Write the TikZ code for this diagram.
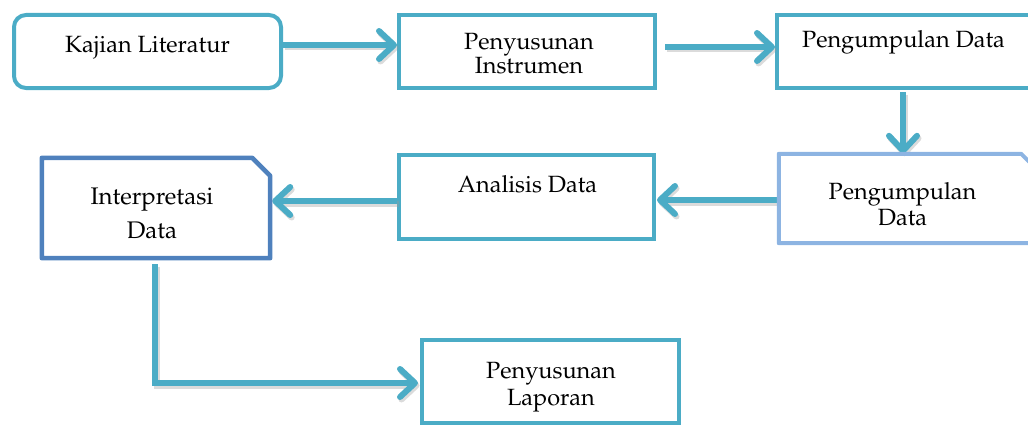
\documentclass[tikz,border=0pt]{standalone}
\usepackage[T1]{fontenc}
\usepackage{mathpazo}
\usetikzlibrary{arrows.meta}
\definecolor{aqua}{RGB}{75,172,198}
\definecolor{steel}{RGB}{79,129,189}
\definecolor{lightblue}{RGB}{141,180,226}
\tikzset{
  boxa/.style={draw=aqua, line width=4pt, inner sep=0pt},
  ghost/.style={draw=none, inner sep=0pt},
  lbl/.style={font=\fontsize{23.5}{28}\selectfont, anchor=base, inner sep=0pt, text=black},
  arrbase/.style={line width=6pt, -{Straight Barb[length=15pt,width=28pt,round]}},
  arr/.style={arrbase, draw=aqua},
  arrshadow/.style={arrbase, draw=black!40, opacity=0.35, transform canvas={shift={(1.5pt,-2.5pt)}}},
}
\begin{document}
\begin{tikzpicture}[x=1pt,y=-1pt]
\useasboundingbox (0,0) rectangle (1028,428);
% boxes
\node[boxa, rounded corners=12pt, minimum width=267pt, minimum height=73pt] (kajian) at (147.5,51.5) {};
\node[boxa, minimum width=256pt, minimum height=73pt] (instr) at (527,51.5) {};
\node[boxa, minimum width=258pt, minimum height=73pt] (peng1) at (906,51.5) {};
\node[ghost, minimum width=256pt, minimum height=89pt] (peng2) at (907,198.5) {};
\node[boxa, minimum width=255pt, minimum height=84pt] (analisis) at (526.5,197) {};
\node[ghost, minimum width=228pt, minimum height=100pt] (interp) at (156,208) {};
\node[boxa, minimum width=257pt, minimum height=83pt] (laporan) at (550.5,381.5) {};
% arrows (shadow first, then colour)
\foreach \s in {arrshadow,arr}{
  \draw[\s] (kajian.east |- 0,45) -- (instr.west |- 0,45);
  \draw[\s] ([xshift=8pt]instr.east |- 0,47) -- (peng1.west |- 0,47);
  \draw[\s] ([yshift=-2pt]peng1.south -| 903,0) -- (peng2.north -| 903,0);
  \draw[\s] (peng2.west |- 0,200) -- ([xshift=1pt]analisis.east |- 0,200);
  \draw[\s] (analisis.west |- 0,201) -- ([xshift=2pt]interp.east |- 0,201);
  \draw[\s] ([yshift=-6pt]interp.south -| 155,0) |- ([xshift=-2pt]laporan.west |- 0,383);
}
% snipped boxes
\draw[lightblue, line width=4pt, line join=round]
  (peng2.south west) -- (peng2.north west) -- ([xshift=-14pt]peng2.north east)
  -- ([yshift=-14pt]peng2.north east) -- (peng2.south east) -- cycle;
\draw[steel, line width=4.5pt, line join=round]
  (interp.south west) -- (interp.north west) -- ([xshift=-18pt]interp.north east)
  -- ([yshift=-18pt]interp.north east) -- (interp.south east) -- cycle;
% labels (one node per printed line, placed on its baseline)
\node[lbl] (tkajian) at (147.5,53) {Kajian Literatur};
\node[lbl] (tinstrA) at (529,50) {Penyusunan};
\node[lbl] (tinstrB) at (529,74) {Instrumen};
\node[lbl] (tpeng1) at (903.5,48) {Pengumpulan Data};
\node[lbl] (tpeng2A) at (902.5,199) {Pengumpulan};
\node[lbl] (tpeng2B) at (902.5,225) {Data};
\node[lbl] (tanalisis) at (527.5,192) {Analisis Data};
\node[lbl, font=\fontsize{24}{28}\selectfont] (tinterpA) at (152,204) {Interpretasi};
\node[lbl, font=\fontsize{24}{28}\selectfont] (tinterpB) at (152,238) {Data};
\node[lbl] (tlaporanA) at (551,378) {Penyusunan};
\node[lbl] (tlaporanB) at (551,405) {Laporan};
\end{tikzpicture}
\end{document}
